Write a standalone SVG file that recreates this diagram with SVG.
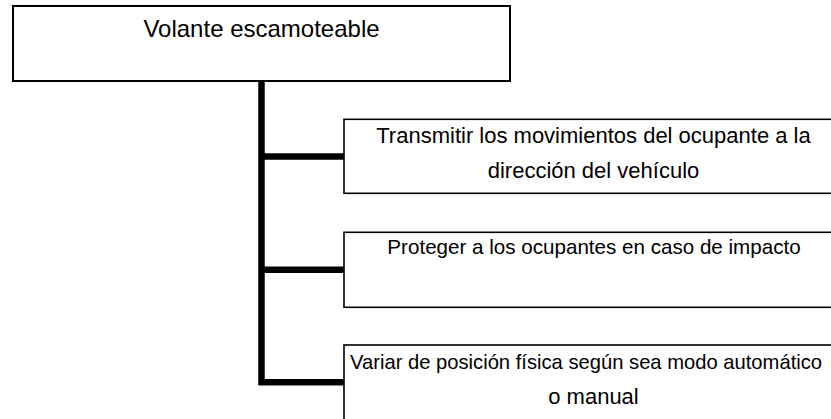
<svg xmlns="http://www.w3.org/2000/svg" width="831" height="419" viewBox="0 0 831 419">
  <style>
    .box { fill: #ffffff; stroke: #000000; stroke-width: 1.6; }
    .top { stroke-width: 2; }
    .conn { fill: none; stroke: #000000; stroke-width: 6.5; stroke-linejoin: miter; }
    .lbl { font-family: "Liberation Sans", Arial, sans-serif; font-size: 22px; fill: #000000; text-anchor: middle; }
    .big { font-size: 24px; }
    .start { text-anchor: start; }
  </style>
  <rect width="831" height="419" fill="#ffffff"/>
  <g id="connectors">
    <path class="conn" d="M261.5,81 V382.2 H344"/>
    <path class="conn" d="M261.5,156.5 H344"/>
    <path class="conn" d="M261.5,269.7 H344"/>
  </g>
  <g id="node-volante">
    <rect class="box top" x="13" y="6" width="497" height="75"/>
    <text class="lbl big" x="261.5" y="37">Volante escamoteable</text>
  </g>
  <g id="node-transmitir">
    <rect class="box" x="344" y="119.3" width="500" height="74"/>
    <text class="lbl" x="593.5" y="142.6">Transmitir los movimientos del ocupante a la</text>
    <text class="lbl" x="593.5" y="177.6">dirección del vehículo</text>
  </g>
  <g id="node-proteger">
    <rect class="box" x="344" y="232.3" width="500" height="75"/>
    <text class="lbl" x="594" y="254.3" style="font-size:20.6px">Proteger a los ocupantes en caso de impacto</text>
  </g>
  <g id="node-variar">
    <rect class="box" x="344" y="345" width="500" height="80"/>
    <text class="lbl start" x="350" y="369" style="font-size:20.2px">Variar de posición física según sea modo automático</text>
    <text class="lbl" x="593.5" y="404">o manual</text>
  </g>
</svg>
